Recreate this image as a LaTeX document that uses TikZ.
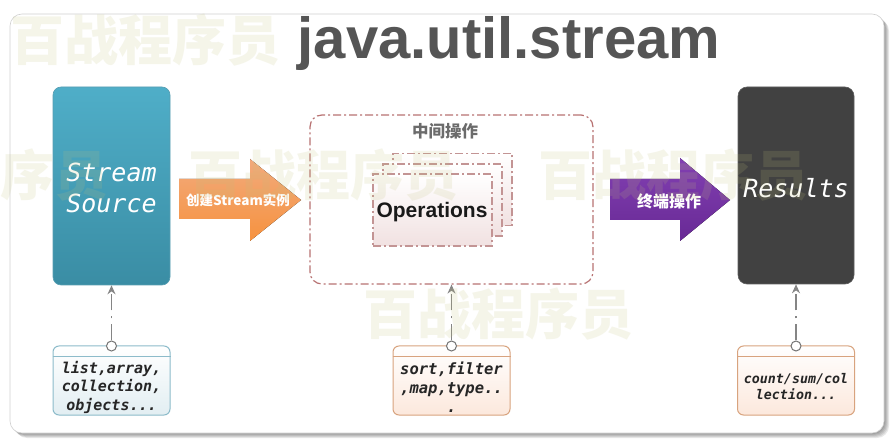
\documentclass[tikz,border=0pt]{standalone}
\usepackage{fontspec}
\setmainfont{Liberation Sans}
\newfontfamily\cjkf{Noto Sans CJK SC}
\newfontfamily\monof{DejaVu Sans Mono}
\usetikzlibrary{arrows.meta}
\definecolor{titlegray}{HTML}{555555}
\definecolor{srctop}{HTML}{4FAEC8}
\definecolor{srcbot}{HTML}{3A8DA4}
\definecolor{ortop}{HTML}{F2AA7C}
\definecolor{orbot}{HTML}{F6923F}
\definecolor{pptop}{HTML}{8240B2}
\definecolor{ppbot}{HTML}{682995}
\definecolor{resfill}{HTML}{414141}
\definecolor{dashred}{HTML}{B87272}
\definecolor{opsborder}{HTML}{C39494}
\definecolor{opsbot}{HTML}{F1E1E1}
\definecolor{blueborder}{HTML}{8CBBCA}
\definecolor{bluebot}{HTML}{E2EEF2}
\definecolor{tanborder}{HTML}{D8A37E}
\definecolor{tanbot}{HTML}{FCE8DC}
\definecolor{conngray}{HTML}{858585}
\definecolor{midlabel}{HTML}{6B6B6B}
\definecolor{wmcol}{RGB}{193,193,124}
\tikzset{
  srcbox/.style={rounded corners=8pt, top color=srctop, bottom color=srcbot, draw=srcbot!85!white,
    line width=0.6pt, minimum width=117pt, minimum height=198pt, inner sep=0pt},
  bigmono/.style={text=white, font=\fontsize{25}{31}\selectfont\monof\itshape, align=center, inner sep=0pt},
  resbox/.style={rounded corners=9pt, fill=resfill, draw=resfill!85!white, line width=0.6pt,
    minimum width=116pt, minimum height=197pt, inner sep=0pt},
  dashdot/.style={dash pattern=on 8pt off 3pt on 2pt off 3pt},
  midbox/.style={draw=dashred, line width=1.2pt, dashdot, rounded corners=12pt,
    minimum width=283pt, minimum height=169pt, inner sep=0pt},
  opsbox/.style={draw=opsborder, line width=1.1pt, dashdot, top color=white, bottom color=opsbot,
    minimum width=119pt, minimum height=72pt, inner sep=0pt},
  notebox/.style={rounded corners=6pt, line width=1pt, top color=white,
    minimum width=117pt, minimum height=69pt, inner sep=0pt},
  bluenote/.style={notebox, draw=blueborder, bottom color=bluebot},
  tannote/.style={notebox, draw=tanborder, bottom color=tanbot},
  notetext/.style={align=center, text=black!85, inner sep=0pt},
  pin/.style={circle, draw=black!55, fill=white, line width=1pt, minimum size=10pt, inner sep=0pt},
  conn/.style={draw=conngray, line width=1.1pt, dash pattern=on 16pt off 6pt on 2pt off 6pt,
    -{Stealth[length=9pt,width=8pt]}},
  arrowlabel/.style={text=white, inner sep=0pt},
  wm/.style={text=wmcol, text opacity=0.16, inner sep=0pt,
    font=\fontsize{54}{54}\selectfont\cjkf\bfseries}
}
\begin{document}
\begin{tikzpicture}[x=1pt,y=-1pt]
\path[use as bounding box] (0,0) rectangle (891,443);
% frame with shadow
\foreach \d in {1,2,3,4,5}
  \fill[black, opacity=0.09, rounded corners=12pt] (10+\d,14+\d) rectangle (884+\d,433+\d);
\fill[white, rounded corners=12pt] (10,14) rectangle (884,433);
\draw[black!18, line width=0.6pt, rounded corners=12pt] (10,14) rectangle (884,433);

% title
\node[anchor=base, text=titlegray, inner sep=0pt, font=\fontsize{58}{60}\selectfont\bfseries] (title) at (509,59) {java.util.stream};

% stream source
\node[srcbox] (src) at (111.5,186) {};
\node[bigmono] (srct) at (111.5,188) {Stream\\Source};

% orange arrow
\fill[top color=ortop, bottom color=orbot] (179,179) -- (250,179) -- (250,159) -- (301,200)
  -- (250,241) -- (250,219) -- (179,219) -- cycle;
\node[arrowlabel, font=\fontsize{13.5}{14}\selectfont\cjkf\bfseries] (lab1) at (238,200) {创建Stream实例};

% middle dashed region
\node[midbox] (mid) at (451.5,199.5) {};
\node[text=midlabel, inner sep=0pt, font=\fontsize{16.5}{18}\selectfont\cjkf\bfseries] (midt) at (445,131) {中间操作};

% operations stack
\node[opsbox] (opsb) at (452.5,189.5) {};
\node[opsbox] (opsm) at (442.5,200) {};
\node[opsbox] (ops) at (432.5,210) {};
\node[text=black!90, inner sep=0pt, font=\fontsize{21}{25}\selectfont\bfseries] (opst) at (432,212.5) {Operations};

% purple arrow
\fill[top color=pptop, bottom color=ppbot] (610,179) -- (680,179) -- (680,158) -- (730,200)
  -- (680,241) -- (680,220) -- (610,220) -- cycle;
\node[arrowlabel, font=\fontsize{16}{18}\selectfont\cjkf\bfseries] (lab2) at (669,201) {终端操作};

% results
\node[resbox] (res) at (796,185.5) {};
\node[bigmono] (rest) at (796,188) {Results};

% note boxes
\node[bluenote] (b1) at (111.5,380.5) {};
\node[tannote] (b2) at (451.5,380.5) {};
\node[tannote] (b3) at (796,380.5) {};
\draw[blueborder, line width=1pt] ([yshift=-11pt]b1.north west) -- ([yshift=-11pt]b1.north east);
\draw[tanborder, line width=1pt] ([yshift=-11pt]b2.north west) -- ([yshift=-11pt]b2.north east);
\draw[tanborder, line width=1pt] ([yshift=-11pt]b3.north west) -- ([yshift=-11pt]b3.north east);
\node[notetext, font=\fontsize{15}{18.5}\selectfont\monof\bfseries\itshape] (t1) at (111.5,387) {list,array,\\collection,\\objects...};
\node[notetext, font=\fontsize{15.5}{19}\selectfont\monof\bfseries\itshape] (t2) at (451.5,387) {sort,filter\\,map,type..\\.};
\node[notetext, font=\fontsize{13.3}{16}\selectfont\monof\bfseries\itshape] (t3) at (796,387) {count/sum/col\\lection...};

% pins and connectors
\node[pin] (c1) at (111.5,346) {};
\node[pin] (c2) at (451.5,346) {};
\node[pin] (c3) at (796,346) {};
\draw[conn] (c1.north) -- (src.south);
\draw[conn] (c2.north) -- (mid.south);
\draw[conn] (c3.north) -- (res.south);

% watermarks
\node[wm] (wm1) at (145,40) {百战程序员};
\node[wm] (wm2) at (-26.5,175) {百战程序员};
\node[wm] (wm3) at (323.5,175) {百战程序员};
\node[wm] (wm4) at (673.5,175) {百战程序员};
\node[wm] (wm5) at (498.5,314.5) {百战程序员};
\end{tikzpicture}
\end{document}
